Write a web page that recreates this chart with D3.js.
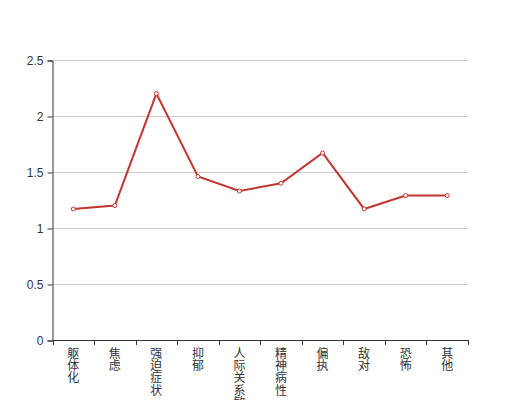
<!DOCTYPE html>
<meta charset="utf-8">
<script src="https://d3js.org/d3.v7.min.js"></script>
<style>
  body { margin: 0; background: #fff; }
  text { font-family: "Liberation Sans", "Noto Sans CJK SC", sans-serif; }
</style>
<body>
<div id="chart"></div>
<script>
  // categories and mean scores
  var categories = ["躯体化", "焦虑", "强迫症状", "抑郁", "人际关系敏感", "精神病性", "偏执", "敌对", "恐怖", "其他"]
  var values = [1.17, 1.2, 2.2, 1.46, 1.33, 1.4, 1.67, 1.17, 1.29, 1.29]
  var yTicks = [0, 0.5, 1, 1.5, 2, 2.5]

  var width = 520, height = 400
  var margin = { top: 60, right: 52, bottom: 60, left: 52.5 }

  var svg = d3.select("#chart").append("svg")
      .attr("width", width)
      .attr("height", height)

  var x = d3.scaleBand()
      .domain(categories)
      .range([margin.left, width - margin.right])

  var y = d3.scaleLinear()
      .domain([0, 2.5])
      .range([height - margin.bottom, margin.top])

  // grid lines
  svg.append("g")
      .selectAll("line")
      .data(yTicks.slice(1))
      .enter().append("line")
      .attr("x1", margin.left)
      .attr("x2", width - margin.right)
      .attr("y1", function (d) { return Math.round(y(d)) + 0.5 })
      .attr("y2", function (d) { return Math.round(y(d)) + 0.5 })
      .attr("stroke", "#ccc")

  // y axis
  var yAxis = svg.append("g")
      .attr("transform", "translate(" + margin.left + ",0.5)")
      .call(d3.axisLeft(y).tickValues(yTicks).tickSize(5).tickPadding(4).tickFormat(function (d) { return d }))
  yAxis.select(".domain").attr("stroke", "#333")
  yAxis.selectAll(".tick line").attr("stroke", "#333")
  yAxis.selectAll(".tick text").attr("fill", "#333").style("font-size", "12px")

  // x axis: ticks on band edges
  var base = y(0)
  var xg = svg.append("g")
  xg.append("line")
      .attr("x1", margin.left).attr("x2", width - margin.right)
      .attr("y1", base + 0.5).attr("y2", base + 0.5)
      .attr("stroke", "#333")
  var edges = categories.map(function (c) { return x(c) }).concat([x.range()[1]])
  xg.selectAll(".xt")
      .data(edges)
      .enter().append("line")
      .attr("x1", function (d) { return Math.round(d) + 0.5 })
      .attr("x2", function (d) { return Math.round(d) + 0.5 })
      .attr("y1", base)
      .attr("y2", base + 5)
      .attr("stroke", "#333")

  // vertical labels, one character per line
  var labels = xg.selectAll(".xl")
      .data(categories)
      .enter().append("text")
      .attr("fill", "#333")
      .style("font-size", "12px")
      .attr("text-anchor", "middle")
  labels.each(function (c) {
    var t = d3.select(this)
    c.split("").forEach(function (ch, i) {
      t.append("tspan")
          .attr("x", x(c) + x.bandwidth() / 2)
          .attr("y", base + 18 + i * 12.2)
          .text(ch)
    })
  })

  // line
  var pts = categories.map(function (c, i) { return [x(c) + x.bandwidth() / 2, y(values[i])] })
  svg.append("path")
      .datum(pts)
      .attr("fill", "none")
      .attr("stroke", "#c23531")
      .attr("stroke-width", 2)
      .attr("d", d3.line())

  svg.append("g")
      .selectAll("circle")
      .data(pts)
      .enter().append("circle")
      .attr("cx", function (d) { return d[0] })
      .attr("cy", function (d) { return d[1] })
      .attr("r", 2)
      .attr("fill", "#fff")
      .attr("stroke", "#c23531")
      .attr("stroke-width", 1)
</script>
</body>
